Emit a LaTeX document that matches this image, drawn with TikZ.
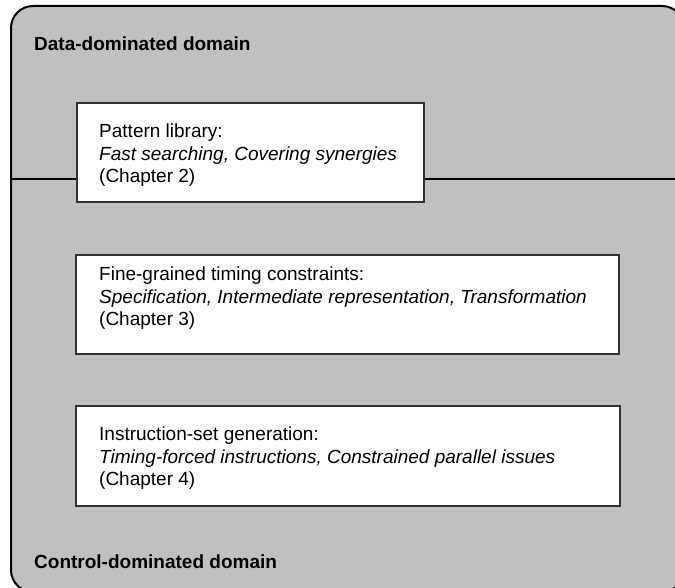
\documentclass[tikz,border=0pt]{standalone}
\usepackage{fontspec}
\setmainfont{Liberation Sans}
\definecolor{domaingray}{HTML}{C0C0C0}
\begin{document}
\begin{tikzpicture}[x=1pt,y=-1pt,
  domainframe/.style={draw=black,line width=2pt,fill=domaingray,rounded corners=22pt},
  topicbox/.style={draw=black!80,line width=1.6pt,fill=white},
  topictext/.style={anchor=north west,inner sep=0pt,align=left,font=\fontsize{19}{22.5}\selectfont},
  domainlabel/.style={anchor=west,inner sep=0pt,font=\fontsize{19}{22}\selectfont\bfseries}]
\useasboundingbox (0,0) rectangle (675,588);
\begin{scope}
\clip (0,0) rectangle (675,588);
% outer frame shared by both domains
\draw[domainframe] (11,6) rectangle (684,592);
% boundary between the two domains
\coordinate (splitL) at (11,179);
\coordinate (splitR) at (684,179);
\draw[line width=2pt] (splitL) -- (splitR);
\end{scope}
\node[domainlabel] (datadom) at (34,44) {Data-dominated domain};
\node[domainlabel] (ctrldom) at (34,562) {Control-dominated domain};
% topic boxes
\draw[topicbox] (77,103) rectangle (424,202);
\draw[topicbox] (76,255) rectangle (619,354);
\draw[topicbox] (76,406) rectangle (620,506);
\node[topictext] (patlib) at (99,124) {Pattern library:\\\textit{Fast searching, Covering synergies}\\(Chapter 2)};
\node[topictext] (timing) at (99,267) {Fine-grained timing constraints:\\\textit{Specification, Intermediate representation, Transformation}\\(Chapter 3)};
\node[topictext] (isgen) at (99,427) {Instruction-set generation:\\\textit{Timing-forced instructions, Constrained parallel issues}\\(Chapter 4)};
\end{tikzpicture}
\end{document}
